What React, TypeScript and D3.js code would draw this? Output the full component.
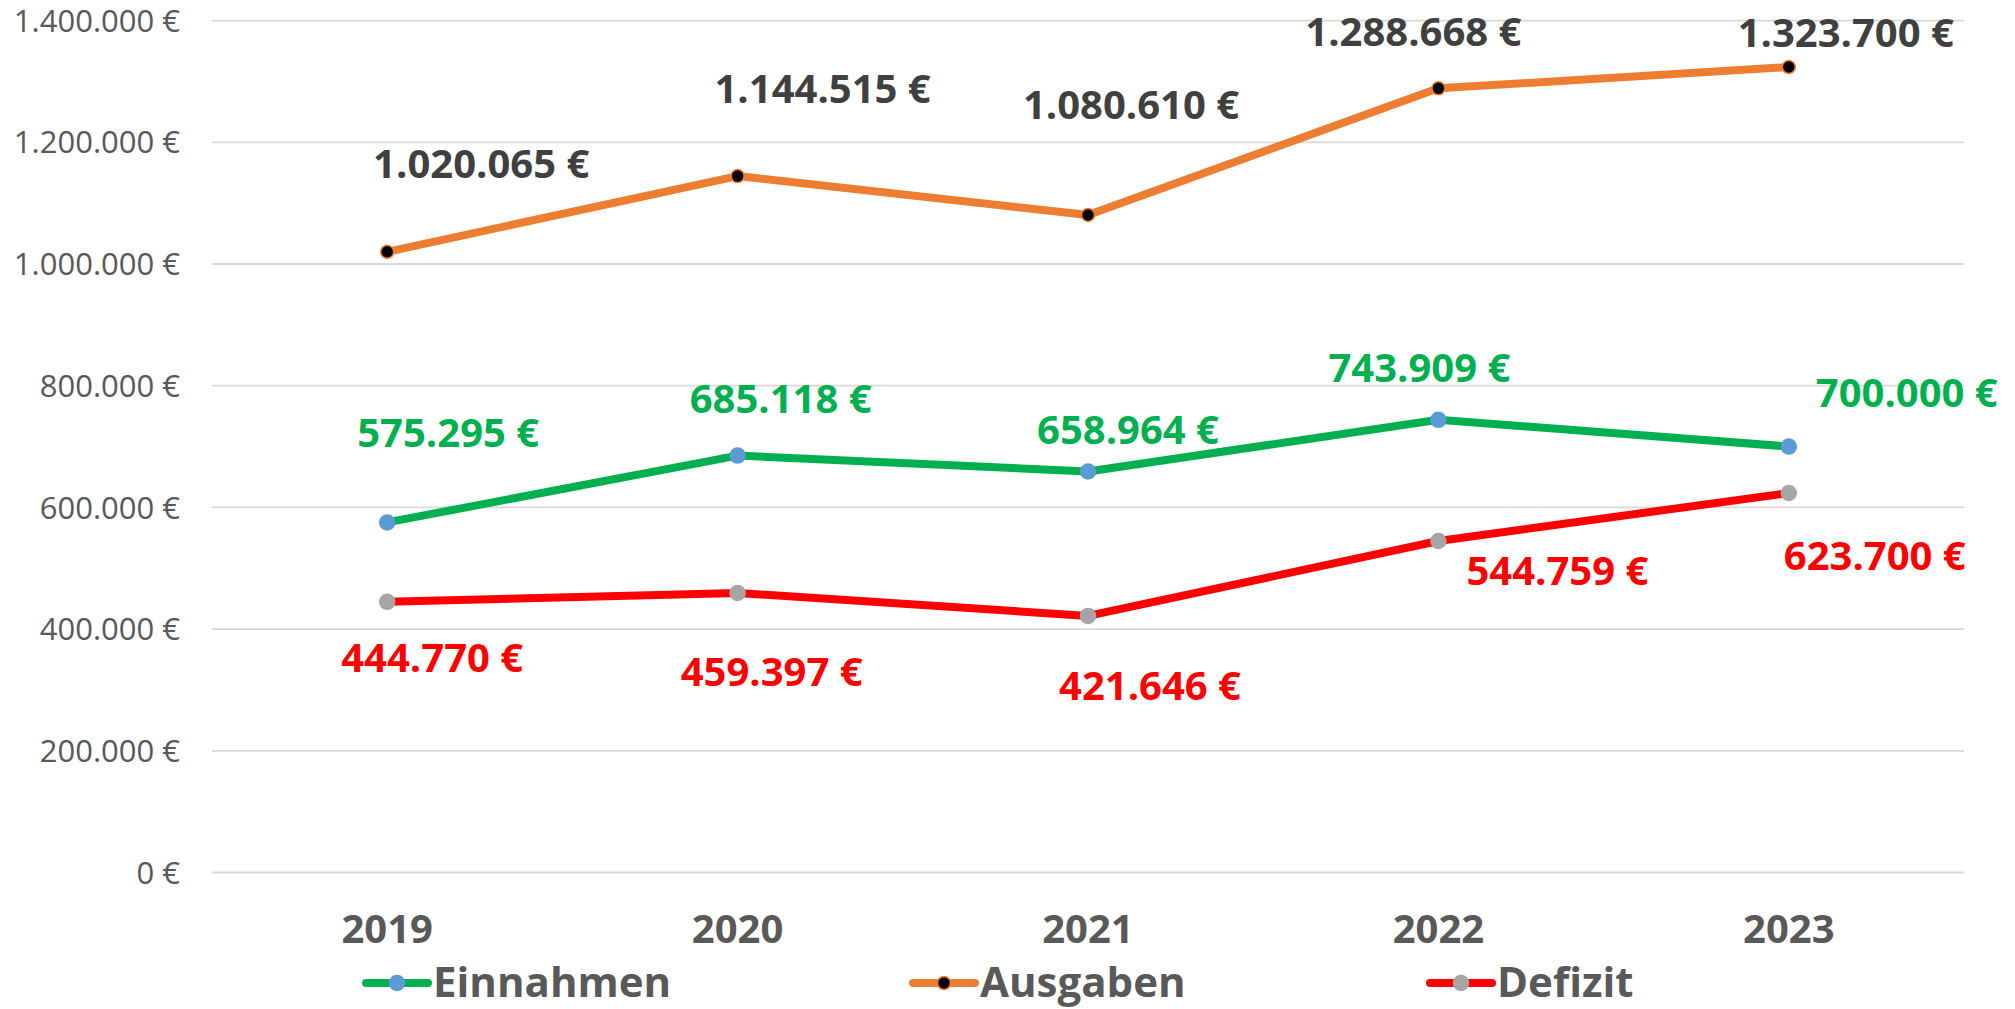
import React from 'react';
import * as d3 from 'd3';

const years = ['2019', '2020', '2021', '2022', '2023'];
const einnahmen = [575295, 685118, 658964, 743909, 700000];
const ausgaben = [1020065, 1144515, 1080610, 1288668, 1323700];
const defizit = [444770, 459397, 421646, 544759, 623700];
const yTicks = [0, 200000, 400000, 600000, 800000, 1000000, 1200000, 1400000];

// label offsets relative to the point (manually placed in the original)
const einLabelOffsets = [[61, -75], [43, -43], [40, -28], [-19, -38], [118, -40]];
const ausLabelOffsets = [[94, -74], [85, -73], [43, -96], [-25, -42], [57, -20]];
const defLabelOffsets = [[45, 70], [34, 93], [62, 84], [119, 44], [86, 77]];

const width = 2015;
const height = 1009;
const margin = { left: 212, right: 51, top: 20.6, bottom: 136.5 };

const de = d3.formatLocale({ decimal: ',', thousands: '.', grouping: [3], currency: ['', ' €'] });
const fmt = (v: number) => de.format(',.0f')(v) + ' €';

const series = [
  { name: 'Einnahmen', values: einnahmen, line: '#00B050', marker: '#5B9BD5', markerStroke: '#5B9BD5', label: '#00B050', offsets: einLabelOffsets, r: 7.5 },
  { name: 'Ausgaben', values: ausgaben, line: '#ED7D31', marker: '#000000', markerStroke: '#ED7D31', label: '#404040', offsets: ausLabelOffsets, r: 6.5 },
  { name: 'Defizit', values: defizit, line: '#FF0000', marker: '#A5A5A5', markerStroke: '#A5A5A5', label: '#FF0000', offsets: defLabelOffsets, r: 7.5 },
];

const legendX = [366, 913, 1430];

export default function App() {
  const x = d3.scalePoint<string>().domain(years).range([margin.left, width - margin.right]).padding(0.5);
  const y = d3.scaleLinear().domain([0, 1400000]).range([height - margin.bottom, margin.top]);
  const line = d3.line<number>().x((_, i) => x(years[i]) as number).y(d => y(d));

  return (
    <svg width={width} height={height} style={{ position: 'absolute', left: 0, top: 0, background: '#fff' }}
      fontFamily="'Open Sans', sans-serif">
      {yTicks.map(t => (
        <g key={t}>
          <line x1={margin.left} x2={width - margin.right} y1={y(t)} y2={y(t)} stroke="#D9D9D9" strokeWidth={1.8} />
          <text x={180} y={y(t)} dy="0.36em" textAnchor="end" fontSize={31} fill="#595959">{fmt(t)}</text>
        </g>
      ))}
      {years.map(yr => (
        <text key={yr} x={x(yr)} y={943} textAnchor="middle" fontSize={40} fontWeight="bold" fill="#595959">{yr}</text>
      ))}
      {series.map(s => (
        <g key={s.name}>
          <path d={line(s.values) || ''} fill="none" stroke={s.line} strokeWidth={8} strokeLinejoin="round" strokeLinecap="round" />
          {s.values.map((v, i) => (
            <circle key={i} cx={x(years[i])} cy={y(v)} r={s.r} fill={s.marker} stroke={s.markerStroke} strokeWidth={1.5} />
          ))}
        </g>
      ))}
      {series.map(s => s.values.map((v, i) => (
        <text key={s.name + i} x={(x(years[i]) as number) + s.offsets[i][0]} y={y(v) + s.offsets[i][1]}
          textAnchor="middle" fontSize={40} fontWeight="bold" fill={s.label}>{fmt(v)}</text>
      )))}
      {series.map((s, i) => (
        <g key={s.name} transform={`translate(${legendX[i]},983)`}>
          <line x1={0} x2={62} y1={0} y2={0} stroke={s.line} strokeWidth={8} strokeLinecap="round" />
          <circle cx={31} cy={0} r={s.r} fill={s.marker} stroke={s.markerStroke} strokeWidth={1.5} />
          <text x={67} y={14} fontSize={42} fontWeight="bold" fill="#595959">{s.name}</text>
        </g>
      ))}
    </svg>
  );
}
